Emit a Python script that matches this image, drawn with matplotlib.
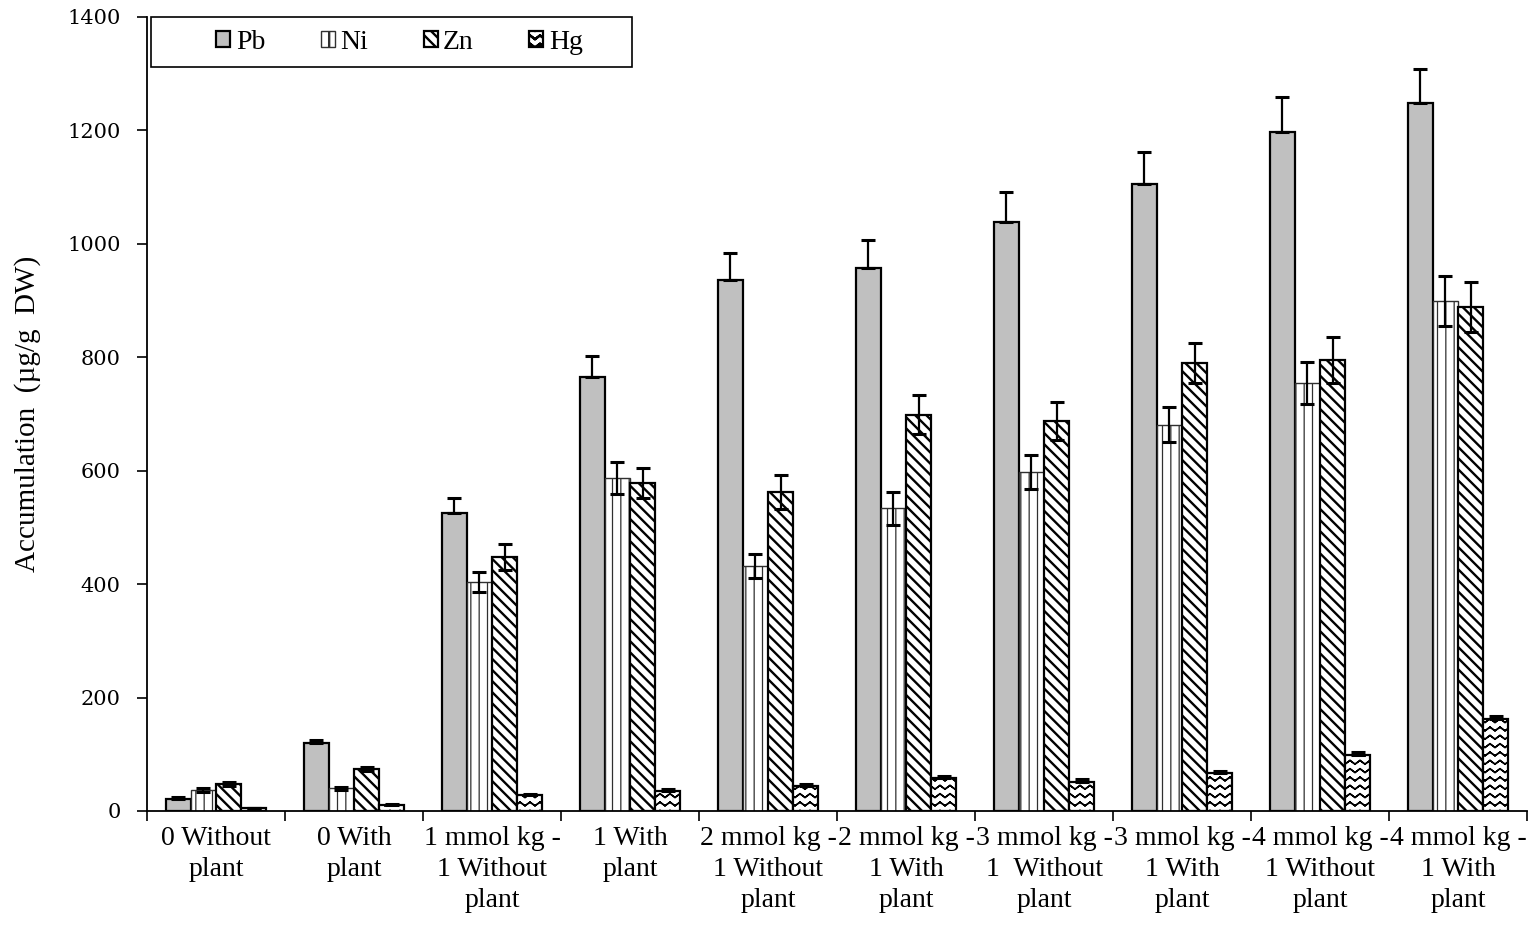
import numpy as np
import matplotlib
matplotlib.use('Agg')
import matplotlib.pyplot as plt
import matplotlib.hatch as mhatch
from matplotlib.path import Path
from matplotlib.patches import Rectangle
import warnings

warnings.filterwarnings('ignore')


# zigzag hatch ('z'); drawn forward then back so Agg's hatch fill stays empty
class ZigZagHatch(mhatch.HatchPatternBase):
    def __init__(self, hatch, density):
        self.num_rows = int(hatch.count('z') * density)
        self.pts = 2 * 10 + 1
        self.num_vertices = self.num_rows * self.pts * 2

    def set_vertices_and_codes(self, vertices, codes):
        if self.num_rows == 0:
            return
        step = 1.0 / self.num_rows
        xs = np.linspace(0, 1, self.pts)
        amp = np.where(np.arange(self.pts) % 2 == 0, 0.0, -0.45 * step)
        n = self.pts * 2
        for r in range(self.num_rows):
            ys = (r + 0.75) * step + amp
            s = slice(r * n, (r + 1) * n)
            vertices[s, 0] = np.r_[xs, xs[::-1]]
            vertices[s, 1] = np.r_[ys, ys[::-1]]
            codes[s] = Path.LINETO
            codes[r * n] = Path.MOVETO


mhatch._hatch_types.append(ZigZagHatch)

plt.rcParams['font.family'] = ['Liberation Serif', 'DejaVu Serif']

groups = ['0 Without\nplant', '0 With\nplant', '1 mmol kg -\n1 Without\nplant',
          '1 With\nplant', '2 mmol kg -\n1 Without\nplant', '2 mmol kg -\n1 With\nplant',
          '3 mmol kg -\n1  Without\nplant', '3 mmol kg -\n1 With\nplant',
          '4 mmol kg -\n1 Without\nplant', '4 mmol kg -\n1 With\nplant']

pb = [22, 120, 525, 765, 936, 958, 1039, 1106, 1197, 1248]
pb_err = [3, 5, 27, 37, 48, 48, 52, 56, 62, 60]
ni = [37, 40, 404, 587, 432, 534, 598, 681, 755, 899]
ni_err = [4, 3, 18, 28, 21, 29, 30, 31, 37, 44]
zn = [48, 74, 448, 578, 562, 699, 688, 790, 795, 889]
zn_err = [4, 4, 23, 27, 30, 35, 33, 35, 41, 44]
hg = [5, 10, 28, 35, 44, 58, 52, 67, 99, 162]
hg_err = [1, 2, 2, 3, 3, 4, 4, 4, 5, 5]

fig = plt.figure(figsize=(15.35, 9.34), dpi=100)
ax = fig.add_axes([0.0958, 0.1317, 0.899, 0.8501])

x = np.arange(len(groups))
w = 0.182
offs = [-1.5 * w, -0.5 * w, 0.5 * w, 1.5 * w]

plt.rcParams['hatch.linewidth'] = 1.7
ax.bar(x + offs[0], pb, w, color='#c0c0c0', edgecolor='black', linewidth=1.6, label='Pb', zorder=2)
with plt.rc_context({'hatch.linewidth': 0.9, 'hatch.color': '#404040'}):
    ax.bar(x + offs[1], ni, w, color='white', edgecolor='#303030', linewidth=1.0,
           hatch='||', label='Ni', zorder=2)
ax.bar(x + offs[2], zn, w, color='white', edgecolor='black', linewidth=1.6,
       hatch='\\\\\\', label='Zn', zorder=2)
with plt.rc_context({'hatch.linewidth': 1.1}):
    ax.bar(x + offs[3], hg, w, color='white', edgecolor='black', linewidth=1.6,
           hatch='zz', label='Hg', zorder=2)

ekw = dict(fmt='none', ecolor='black', elinewidth=1.6, capsize=5, capthick=2.2, zorder=3)
ax.errorbar(x + offs[0], pb, yerr=[np.zeros(10), pb_err], **ekw)
ax.errorbar(x + offs[1], ni, yerr=ni_err, **ekw)
ax.errorbar(x + offs[2], zn, yerr=zn_err, **ekw)
ax.errorbar(x + offs[3], hg, yerr=[np.zeros(10), hg_err], **ekw)

ax.set_xlim(-0.5, len(groups) - 0.5)
ax.set_ylim(0, 1400)
ax.set_yticks(np.arange(0, 1401, 200))
ax.set_xticks(x)
ax.set_xticklabels(groups, fontsize=20, linespacing=1.3)
ax.set_xticks(np.arange(-0.5, len(groups), 1), minor=True)
ax.tick_params(axis='x', which='major', length=0, pad=11)
ax.tick_params(axis='x', which='minor', length=7, width=1.2, direction='out')
ax.tick_params(axis='y', length=7, width=1.2, direction='out', pad=12)
for lab in ax.get_yticklabels():
    lab.set_fontfamily('DejaVu Serif')
    lab.set_fontsize(15)

for s in ['top', 'right']:
    ax.spines[s].set_visible(False)
for s in ['left', 'bottom']:
    ax.spines[s].set_linewidth(1.3)

ax.set_ylabel('Accumulation  (µg/g  DW)', fontsize=21)
ax.yaxis.set_label_coords(-0.077, 0.5)

# legend box drawn separately so the entries can sit centred inside it
ax.add_patch(Rectangle((0.003, 0.937), 0.3486, 0.063, transform=ax.transAxes,
                       fill=False, edgecolor='black', linewidth=1.2, clip_on=False, zorder=4))
ax.legend(loc='center', ncol=4, bbox_to_anchor=(0.183, 0.9685), fontsize=20,
          frameon=False, handlelength=0.5, handleheight=0.5, handletextpad=0.2,
          columnspacing=2.0, borderpad=0)

fig.savefig('out.png', dpi=100)
